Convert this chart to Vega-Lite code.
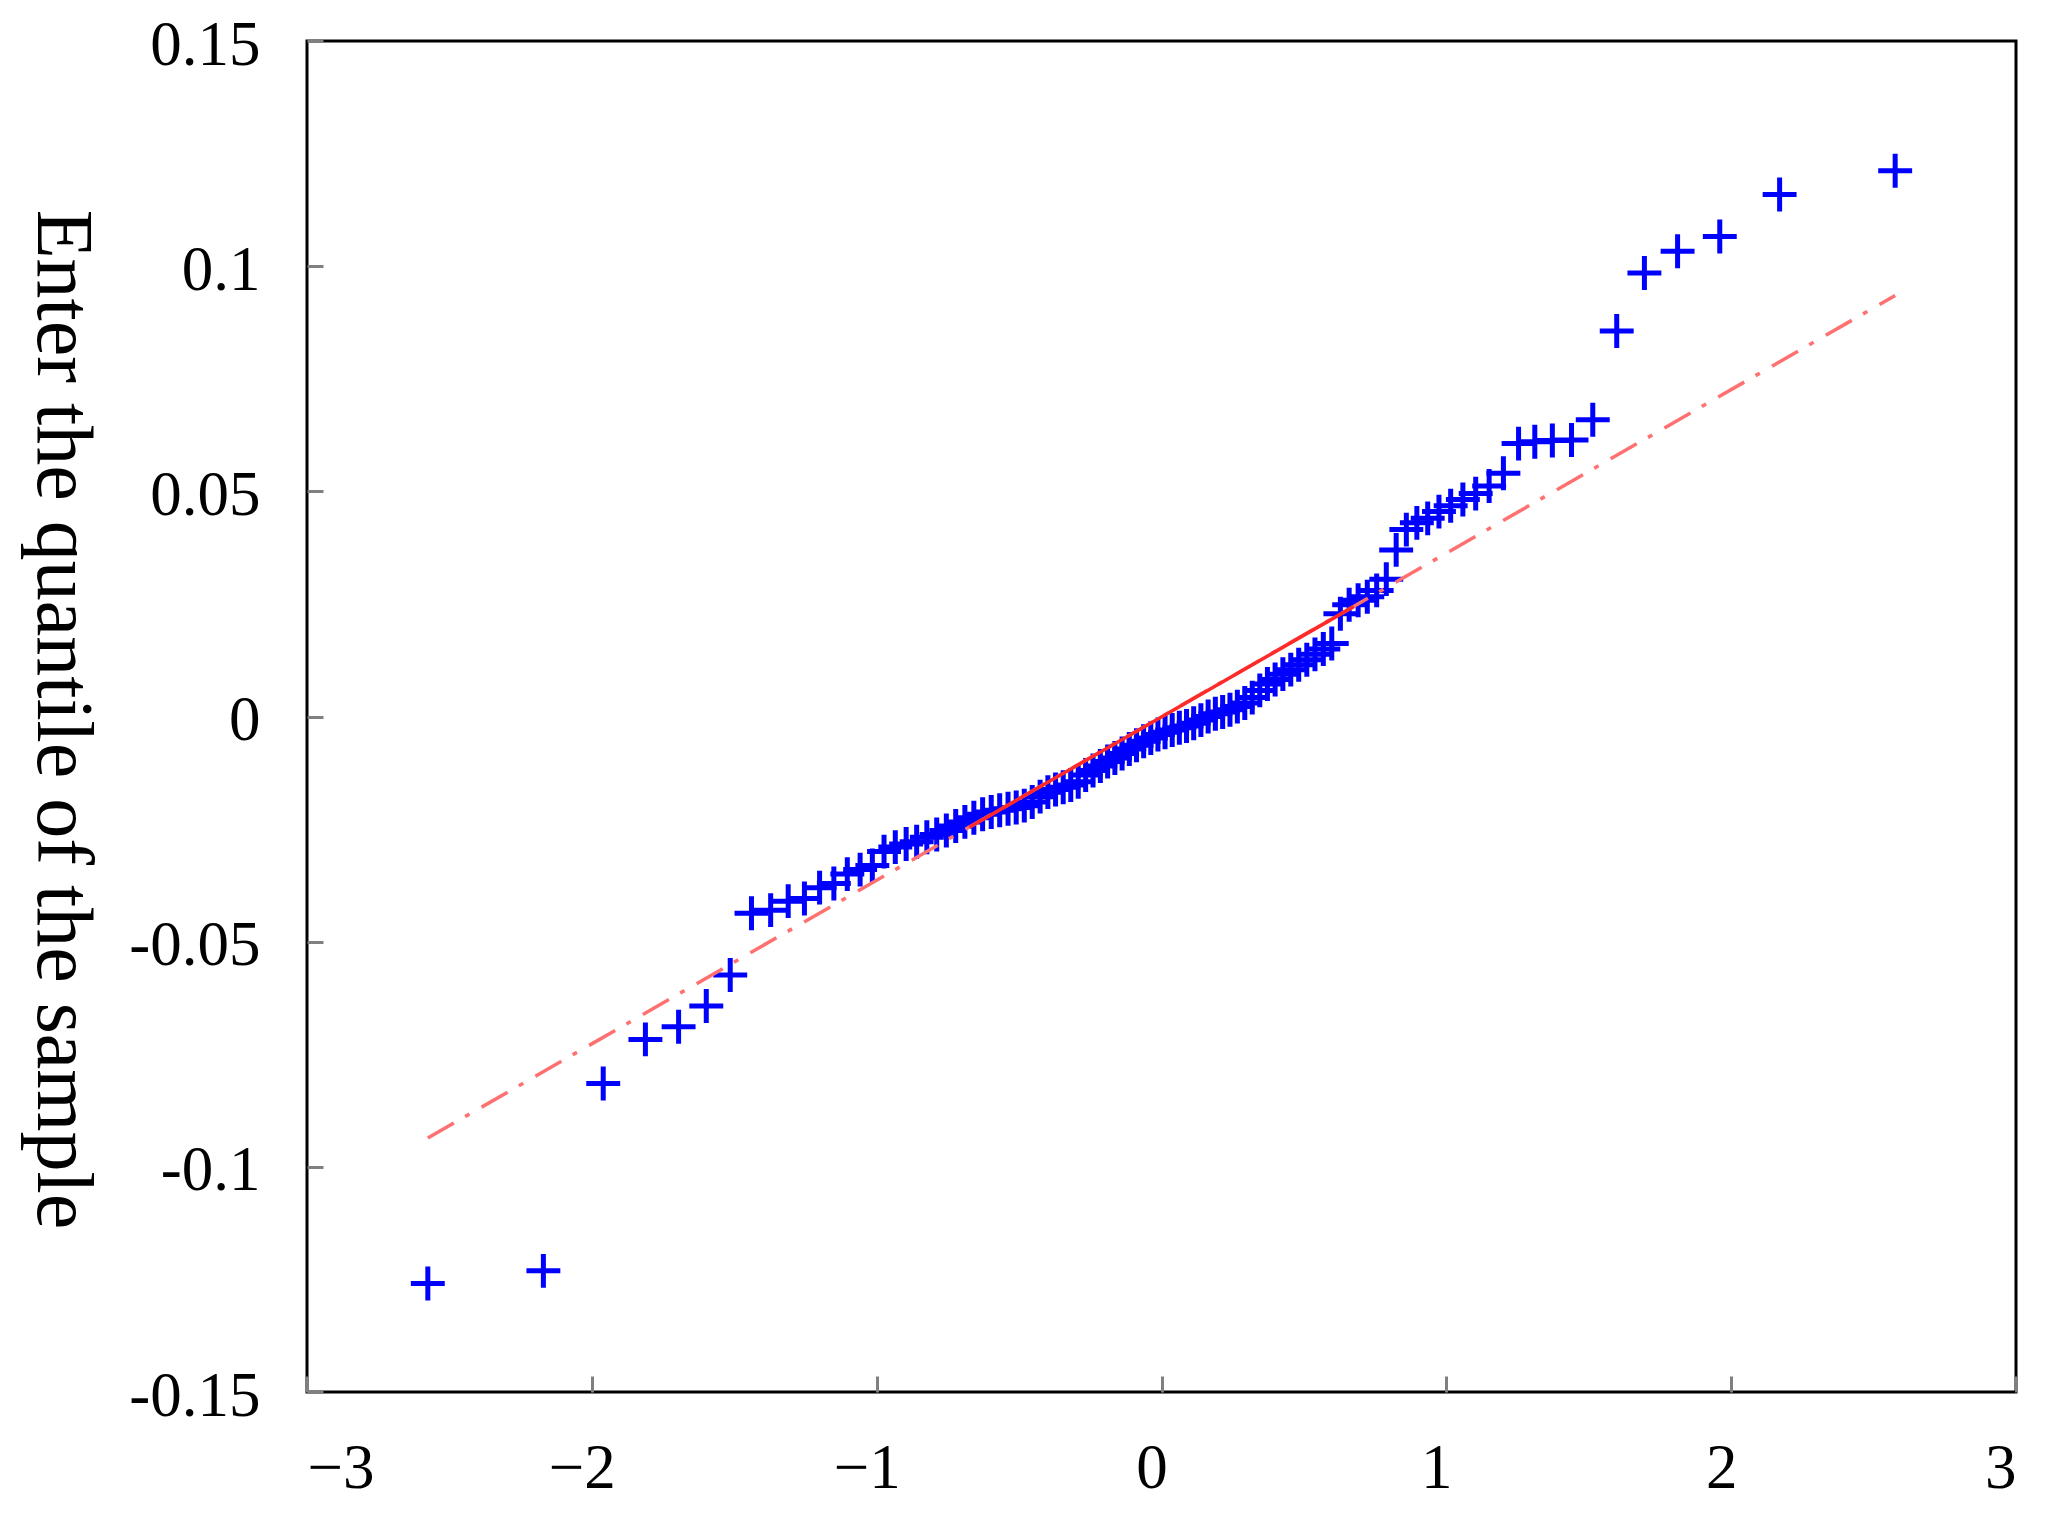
{
  "$schema": "https://vega.github.io/schema/vega-lite/v6.json",
  "width": 1709,
  "height": 1351,
  "autosize": {"type": "none"},
  "padding": {"left": 307, "top": 41, "right": 43, "bottom": 124},
  "background": "white",
  "config": {
    "view": {"stroke": "black", "strokeWidth": 3},
    "font": "Liberation Serif"
  },
  "datasets": {
    "pts": [
      {"x": -2.5758, "y": -0.1259}, {"x": -2.1701, "y": -0.1231}, {"x": -1.9600, "y": -0.0815}, {"x": -1.8119, "y": -0.0717},
      {"x": -1.6954, "y": -0.0689}, {"x": -1.5982, "y": -0.0643}, {"x": -1.5141, "y": -0.0574}, {"x": -1.4395, "y": -0.0437},
      {"x": -1.3722, "y": -0.0430}, {"x": -1.3106, "y": -0.0410}, {"x": -1.2536, "y": -0.0404}, {"x": -1.2004, "y": -0.0380},
      {"x": -1.1503, "y": -0.0371}, {"x": -1.1031, "y": -0.0350}, {"x": -1.0581, "y": -0.0340}, {"x": -1.0152, "y": -0.0331},
      {"x": -0.9741, "y": -0.0300}, {"x": -0.9346, "y": -0.0290}, {"x": -0.8965, "y": -0.0283}, {"x": -0.8596, "y": -0.0278},
      {"x": -0.8239, "y": -0.0268}, {"x": -0.7892, "y": -0.0262}, {"x": -0.7554, "y": -0.0253}, {"x": -0.7225, "y": -0.0243},
      {"x": -0.6903, "y": -0.0234}, {"x": -0.6588, "y": -0.0225}, {"x": -0.6280, "y": -0.0217}, {"x": -0.5978, "y": -0.0212},
      {"x": -0.5681, "y": -0.0208}, {"x": -0.5388, "y": -0.0205}, {"x": -0.5101, "y": -0.0202}, {"x": -0.4817, "y": -0.0198},
      {"x": -0.4538, "y": -0.0190}, {"x": -0.4261, "y": -0.0178}, {"x": -0.3989, "y": -0.0168}, {"x": -0.3719, "y": -0.0162},
      {"x": -0.3451, "y": -0.0157}, {"x": -0.3186, "y": -0.0152}, {"x": -0.2924, "y": -0.0145}, {"x": -0.2663, "y": -0.0130},
      {"x": -0.2404, "y": -0.0120}, {"x": -0.2147, "y": -0.0110}, {"x": -0.1891, "y": -0.0100}, {"x": -0.1637, "y": -0.0092},
      {"x": -0.1383, "y": -0.0082}, {"x": -0.1130, "y": -0.0072}, {"x": -0.0878, "y": -0.0064}, {"x": -0.0627, "y": -0.0055},
      {"x": -0.0376, "y": -0.0048}, {"x": -0.0125, "y": -0.0040},
      {"x": 0.0125, "y": -0.0035}, {"x": 0.0376, "y": -0.0030}, {"x": 0.0627, "y": -0.0025}, {"x": 0.0878, "y": -0.0021},
      {"x": 0.1130, "y": -0.0015}, {"x": 0.1383, "y": -0.0008}, {"x": 0.1637, "y": 0.0000}, {"x": 0.1891, "y": 0.0006},
      {"x": 0.2147, "y": 0.0010}, {"x": 0.2404, "y": 0.0015}, {"x": 0.2663, "y": 0.0022}, {"x": 0.2924, "y": 0.0030},
      {"x": 0.3186, "y": 0.0042}, {"x": 0.3451, "y": 0.0058}, {"x": 0.3719, "y": 0.0072}, {"x": 0.3989, "y": 0.0082},
      {"x": 0.4261, "y": 0.0094}, {"x": 0.4538, "y": 0.0104}, {"x": 0.4817, "y": 0.0115}, {"x": 0.5101, "y": 0.0126},
      {"x": 0.5388, "y": 0.0138}, {"x": 0.5681, "y": 0.0150}, {"x": 0.5978, "y": 0.0162}, {"x": 0.6280, "y": 0.0228},
      {"x": 0.6588, "y": 0.0248}, {"x": 0.6903, "y": 0.0258}, {"x": 0.7225, "y": 0.0266}, {"x": 0.7554, "y": 0.0280},
      {"x": 0.7892, "y": 0.0305}, {"x": 0.8239, "y": 0.0370}, {"x": 0.8596, "y": 0.0415}, {"x": 0.8965, "y": 0.0430},
      {"x": 0.9346, "y": 0.0440}, {"x": 0.9741, "y": 0.0455}, {"x": 1.0152, "y": 0.0468}, {"x": 1.0581, "y": 0.0482},
      {"x": 1.1031, "y": 0.0495}, {"x": 1.1503, "y": 0.0512}, {"x": 1.2004, "y": 0.0540}, {"x": 1.2536, "y": 0.0606},
      {"x": 1.3106, "y": 0.0610}, {"x": 1.3722, "y": 0.0613}, {"x": 1.4395, "y": 0.0614}, {"x": 1.5141, "y": 0.0659},
      {"x": 1.5982, "y": 0.0856}, {"x": 1.6954, "y": 0.0985}, {"x": 1.8119, "y": 0.1033}, {"x": 1.9600, "y": 0.1066},
      {"x": 2.1701, "y": 0.1159}, {"x": 2.5758, "y": 0.1212}
    ],
    "dashline": [
      {"x": -2.5758, "y": -0.0936},
      {"x": 2.5758, "y": 0.0935}
    ],
    "solidline": [
      {"x": -0.6745, "y": -0.0246},
      {"x": 0.6745, "y": 0.0244}
    ]
  },
  "encoding": {
    "x": {
      "field": "x",
      "type": "quantitative",
      "scale": {"domain": [-3, 3], "nice": false, "zero": false},
      "axis": {
        "values": [-3, -2, -1, 0, 1, 2, 3],
        "labelExpr": "format(datum.value, 'd')",
        "domain": false,
        "grid": false,
        "ticks": true,
        "tickSize": -16,
        "tickWidth": 3,
        "tickColor": "#808080",
        "labelFont": "Liberation Serif",
        "labelFontSize": 63,
        "labelColor": "black",
        "labelPadding": 61,
        "labelFlush": true,
        "labelOffset": {"condition": {"test": "abs(datum.value) == 3", "value": 0}, "value": -10},
        "title": null
      }
    },
    "y": {
      "field": "y",
      "type": "quantitative",
      "scale": {"domain": [-0.15, 0.15], "nice": false, "zero": false},
      "axis": {
        "values": [-0.15, -0.1, -0.05, 0, 0.05, 0.1, 0.15],
        "labelExpr": "datum.value == 0 ? '0' : (datum.value < 0 ? '-' : '') + format(abs(datum.value), '.2~f')",
        "domain": false,
        "grid": false,
        "ticks": true,
        "tickSize": -16,
        "tickWidth": 3,
        "tickColor": "#808080",
        "labelFont": "Liberation Serif",
        "labelFontSize": 63,
        "labelColor": "black",
        "labelPadding": 63,
        "labelOffset": 4,
        "labelFlush": false,
        "title": "Enter the quantile of the sample",
        "titleFont": "Liberation Serif",
        "titleFontSize": 80,
        "titleFontWeight": "normal",
        "titleColor": "black",
        "titleAngle": 90,
        "titleX": -270,
        "titleY": 678,
        "titleAlign": "center",
        "titleBaseline": "alphabetic"
      }
    }
  },
  "layer": [
    {
      "data": {"name": "pts"},
      "mark": {
        "type": "point",
        "shape": "M-1,0L1,0M0,-1L0,1",
        "filled": false,
        "stroke": "#0000ff",
        "strokeWidth": 5,
        "size": 1150,
        "opacity": 1
      }
    },
    {
      "data": {"name": "dashline"},
      "mark": {
        "type": "line",
        "stroke": "#ff7070",
        "strokeWidth": 3.5,
        "strokeDash": [30, 13, 5, 14]
      }
    },
    {
      "data": {"name": "solidline"},
      "mark": {
        "type": "line",
        "stroke": "#ff2a2a",
        "strokeWidth": 3.5
      }
    }
  ]
}
